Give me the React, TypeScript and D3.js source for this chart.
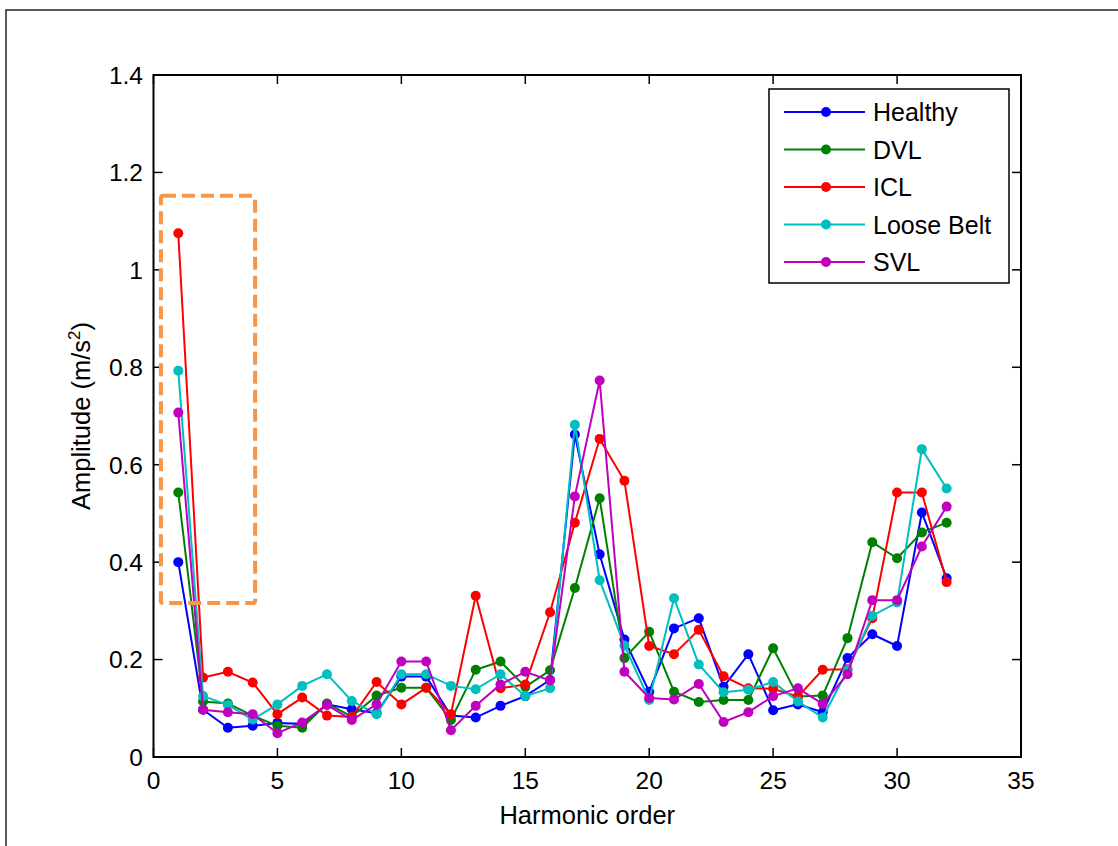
import React from "react";
import * as d3 from "d3";

const harmonics = d3.range(1, 33);

const healthy = [0.40, 0.097, 0.060, 0.064, 0.070, 0.068, 0.108, 0.098, 0.090, 0.165, 0.165, 0.085, 0.081, 0.105, 0.125, 0.158, 0.662, 0.416, 0.241, 0.134, 0.264, 0.285, 0.144, 0.211, 0.096, 0.108, 0.092, 0.203, 0.252, 0.228, 0.502, 0.367];
const dvl = [0.543, 0.114, 0.110, 0.085, 0.064, 0.060, 0.110, 0.083, 0.126, 0.142, 0.142, 0.076, 0.179, 0.196, 0.144, 0.178, 0.347, 0.531, 0.203, 0.257, 0.134, 0.113, 0.117, 0.117, 0.223, 0.124, 0.126, 0.244, 0.441, 0.408, 0.461, 0.481];
const icl = [1.075, 0.163, 0.175, 0.153, 0.088, 0.122, 0.085, 0.082, 0.154, 0.108, 0.142, 0.088, 0.331, 0.141, 0.149, 0.297, 0.481, 0.653, 0.567, 0.228, 0.211, 0.261, 0.166, 0.141, 0.140, 0.124, 0.179, 0.180, 0.285, 0.543, 0.543, 0.359];
const looseBelt = [0.793, 0.125, 0.107, 0.077, 0.108, 0.146, 0.170, 0.115, 0.088, 0.170, 0.170, 0.146, 0.139, 0.170, 0.125, 0.141, 0.682, 0.363, 0.229, 0.117, 0.326, 0.190, 0.133, 0.138, 0.154, 0.114, 0.081, 0.178, 0.290, 0.317, 0.632, 0.551];
const svl = [0.707, 0.097, 0.092, 0.088, 0.049, 0.071, 0.107, 0.076, 0.108, 0.196, 0.196, 0.055, 0.105, 0.149, 0.175, 0.157, 0.535, 0.773, 0.175, 0.121, 0.118, 0.150, 0.072, 0.092, 0.125, 0.141, 0.109, 0.170, 0.322, 0.322, 0.432, 0.514];

const seriesNames = ["Healthy", "DVL", "ICL", "Loose Belt", "SVL"];
const seriesValues = [healthy, dvl, icl, looseBelt, svl];
const seriesColors = ["#0000FF", "#008000", "#FF0000", "#00BFBF", "#BF00BF"];

const xTicks = [0, 5, 10, 15, 20, 25, 30, 35];
const yTicks = [0, 0.2, 0.4, 0.6, 0.8, 1, 1.2, 1.4];
const yTickLabels = ["0", "0.2", "0.4", "0.6", "0.8", "1", "1.2", "1.4"];

// highlight box in data units
const boxX = [0.3, 4.1];
const boxY = [0.316, 1.152];

const W = 1118;
const H = 846;
const left = 153.5, right = 1021, top = 75, bottom = 757;
const FONT = "Arial, 'Liberation Sans', Helvetica, sans-serif";

export default function App() {
  const x = d3.scaleLinear().domain([0, 35]).range([left, right]);
  const y = d3.scaleLinear().domain([0, 1.4]).range([bottom, top]);
  const line = d3.line<number>().x((_, i) => x(harmonics[i])).y((d) => y(d));
  const tl = 9;

  const legendX = 769, legendY = 89, legendW = 240, legendH = 194;
  const rowY = (i: number) => 112 + i * 37.5;

  return (
    <svg width={W} height={H} style={{ position: "absolute", left: 0, top: 0, background: "#fff" }} fontFamily={FONT}>
      <rect x={0} y={0} width={W} height={H} fill="#fff" />
      <rect x={6} y={10} width={1300} height={1000} fill="none" stroke="#222" strokeWidth={1.5} />

      {/* series */}
      {seriesValues.map((vals, si) => (
        <g key={si}>
          <path d={line(vals) || ""} fill="none" stroke={seriesColors[si]} strokeWidth={2} />
          {vals.map((v, i) => (
            <circle key={i} cx={x(harmonics[i])} cy={y(v)} r={5} fill={seriesColors[si]} />
          ))}
        </g>
      ))}

      {/* axes box */}
      <rect x={left} y={top} width={right - left} height={bottom - top} fill="none" stroke="#000" strokeWidth={2} />
      {xTicks.map((t) => (
        <g key={"xt" + t}>
          <line x1={x(t)} x2={x(t)} y1={bottom} y2={bottom - tl} stroke="#000" strokeWidth={1.5} />
          <line x1={x(t)} x2={x(t)} y1={top} y2={top + tl} stroke="#000" strokeWidth={1.5} />
          <text x={x(t)} y={788.5} fontSize={24.5} textAnchor="middle" fill="#000">{t}</text>
        </g>
      ))}
      {yTicks.map((t, i) => (
        <g key={"yt" + t}>
          <line x1={left} x2={left + tl} y1={y(t)} y2={y(t)} stroke="#000" strokeWidth={1.5} />
          <line x1={right} x2={right - tl} y1={y(t)} y2={y(t)} stroke="#000" strokeWidth={1.5} />
          <text x={143} y={y(t) + 8.8} fontSize={24.5} textAnchor="end" fill="#000">{yTickLabels[i]}</text>
        </g>
      ))}

      <text x={(left + right) / 2} y={823.5} fontSize={25.5} textAnchor="middle" fill="#000">Harmonic order</text>
      <text transform={`translate(90,${(top + bottom) / 2}) rotate(-90)`} fontSize={25.5} textAnchor="middle" fill="#000">
        Amplitude (m/s<tspan fontSize={17} dy={-10}>2</tspan><tspan dy={10}>)</tspan>
      </text>

      {/* highlight box */}
      <rect x={x(boxX[0])} y={y(boxY[1])} width={x(boxX[1]) - x(boxX[0])} height={y(boxY[0]) - y(boxY[1])}
        fill="none" stroke="#F79646" strokeWidth={4} strokeDasharray="13,6" rx={2} />

      {/* legend */}
      <rect x={legendX} y={legendY} width={legendW} height={legendH} fill="#fff" stroke="#000" strokeWidth={1.5} />
      {seriesNames.map((n, i) => (
        <g key={n}>
          <line x1={784} x2={865} y1={rowY(i)} y2={rowY(i)} stroke={seriesColors[i]} strokeWidth={2} />
          <circle cx={826} cy={rowY(i)} r={5} fill={seriesColors[i]} />
          <text x={873} y={rowY(i) + 9} fontSize={25} fill="#000">{n}</text>
        </g>
      ))}
    </svg>
  );
}
